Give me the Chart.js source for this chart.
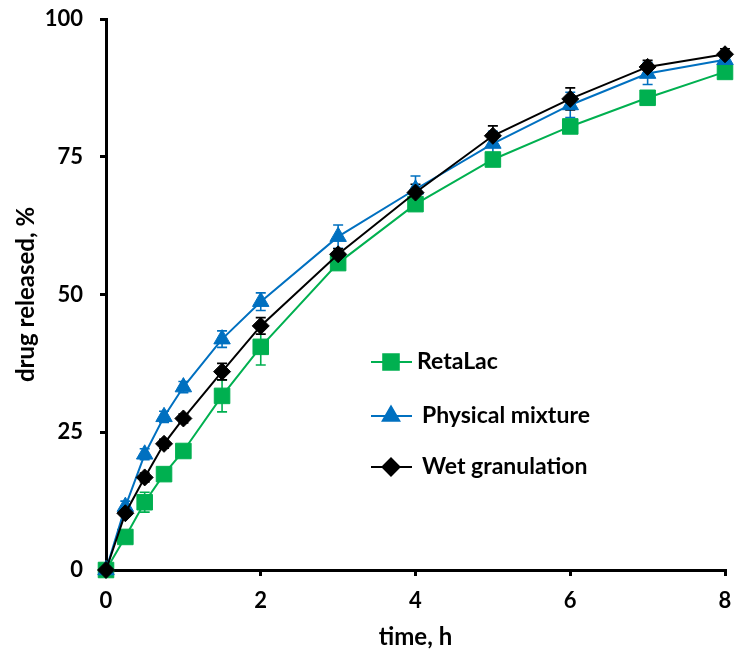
<!DOCTYPE html>
<html><head><meta charset="utf-8">
<script src="https://cdn.jsdelivr.net/npm/chart.js@4.4.0/dist/chart.umd.min.js"></script>
<style>html,body{margin:0;padding:0;background:#fff;}#wrap{width:737px;height:659px;position:relative}</style>
</head><body><div id="wrap"><canvas id="c" width="737" height="659"></canvas></div>
<script>
const timesH = [0, 0.25, 0.5, 0.75, 1, 1.5, 2, 3, 4, 5, 6, 7, 8];
const retaLac = [0, 6.0, 12.3, 17.4, 21.6, 31.6, 40.5, 55.7, 66.4, 74.5, 80.5, 85.7, 90.4];
const retaLacErr = [0, 0.5, 1.8, 1.0, 1.0, 2.9, 3.3, 1.0, 1.0, 1.0, 1.0, 0.8, 0.8];
const physMix = [0, 11.5, 21.0, 27.8, 33.2, 41.9, 48.7, 60.5, 69.1, 77.4, 84.4, 90.1, 92.6];
const physMixErr = [0, 1.0, 1.0, 1.0, 1.0, 1.5, 1.6, 2.1, 2.4, 2.2, 2.3, 2.0, 1.5];
const wetGran = [0, 10.3, 16.8, 22.9, 27.5, 36.0, 44.3, 57.3, 68.5, 78.8, 85.5, 91.3, 93.6];
const wetGranErr = [0, 0.5, 0.8, 0.8, 0.8, 1.5, 1.5, 1.0, 1.5, 1.8, 2.0, 1.2, 1.0];
const seriesNames = ['RetaLac', 'Physical mixture', 'Wet granulation'];
const xTickValues = [0, 2, 4, 6, 8];
const yTickValues = [0, 25, 50, 75, 100];

const FONT = 'Lato, "Open Sans", sans-serif';
const toPts = (ys) => timesH.map((t, i) => ({x: t, y: ys[i]}));

const errorBars = {
  id: 'errorBars',
  beforeDatasetsDraw(chart) {
    const {ctx, scales: {x, y}} = chart;
    chart.data.datasets.forEach((ds) => {
      const err = ds.errors;
      ctx.save();
      ctx.strokeStyle = ds.borderColor;
      ctx.lineWidth = 1.6;
      ds.data.forEach((p, i) => {
        if (!err[i]) return;
        const px = x.getPixelForValue(p.x);
        const top = y.getPixelForValue(p.y + err[i]);
        const bot = y.getPixelForValue(p.y - err[i]);
        ctx.beginPath();
        ctx.moveTo(px, top); ctx.lineTo(px, bot);
        ctx.moveTo(px - 5, top); ctx.lineTo(px + 5, top);
        ctx.moveTo(px - 5, bot); ctx.lineTo(px + 5, bot);
        ctx.stroke();
      });
      ctx.restore();
    });
  }
};

const customLegend = {
  id: 'customLegend',
  afterDraw(chart) {
    const {ctx} = chart;
    const rows = [
      {ds: 0, y: 362, tx: 417},
      {ds: 1, y: 416, tx: 422},
      {ds: 2, y: 467, tx: 422}
    ];
    rows.forEach(r => {
      const ds = chart.data.datasets[r.ds];
      ctx.save();
      ctx.strokeStyle = ds.borderColor;
      ctx.lineWidth = 2;
      ctx.beginPath(); ctx.moveTo(371, r.y); ctx.lineTo(412, r.y); ctx.stroke();
      ctx.fillStyle = ds.backgroundColor;
      Chart.helpers.drawPoint(ctx, {pointStyle: ds.pointStyle, radius: ds.pointRadius, borderWidth: 1}, 391, r.y);
      ctx.fillStyle = '#000';
      ctx.font = 'bold 23px ' + FONT;
      ctx.textBaseline = 'middle';
      ctx.textAlign = 'left';
      ctx.fillText(ds.label, r.tx, r.y);
      ctx.restore();
    });
  }
};

const mk = (label, ys, errs, color, style, radius, order) => ({
  label, data: toPts(ys), errors: errs,
  borderColor: color, backgroundColor: color,
  pointStyle: style, pointRadius: radius, pointHoverRadius: radius,
  pointBorderWidth: 1, borderWidth: 2, showLine: true, clip: false, order
});

new Chart(document.getElementById('c'), {
  type: 'scatter',
  data: {
    datasets: [
      mk(seriesNames[0], retaLac, retaLacErr, '#00B050', 'rect', 11, 3),
      mk(seriesNames[1], physMix, physMixErr, '#0070C0', 'triangle', 9.5, 2),
      mk(seriesNames[2], wetGran, wetGranErr, '#000000', 'rectRot', 8.5, 1)
    ]
  },
  options: {
    responsive: false, animation: false, devicePixelRatio: 1,
    layout: {autoPadding: false, padding: {top: 19, right: 12, left: 0, bottom: 0}},
    plugins: {legend: {display: false}, tooltip: {enabled: false}},
    scales: {
      x: {
        type: 'linear', min: 0, max: 8,
        afterFit: (s) => { s.height = 89; s.paddingLeft = 0; s.paddingRight = 0; },
        afterBuildTicks: (s) => { s.ticks = xTickValues.map(v => ({value: v})); },
        ticks: {color: '#000', font: {family: FONT, size: 22, weight: 'bold'}, padding: 12},
        grid: {drawOnChartArea: false, drawTicks: true, tickLength: 6, lineWidth: 3, color: '#000'},
        border: {display: true, width: 3, color: '#000'},
        title: {display: true, text: 'time, h', color: '#000', font: {family: FONT, size: 24, weight: 'bold'}, padding: {top: 0, bottom: 7}}
      },
      y: {
        type: 'linear', min: 0, max: 100,
        afterFit: (s) => { s.width = 106; s.paddingTop = 0; s.paddingBottom = 0; },
        afterBuildTicks: (s) => { s.ticks = yTickValues.map(v => ({value: v})); },
        ticks: {color: '#000', font: {family: FONT, size: 22, weight: 'bold'}, padding: 17},
        grid: {drawOnChartArea: false, drawTicks: true, tickLength: 6, lineWidth: 3, color: '#000'},
        border: {display: true, width: 3, color: '#000'},
        title: {display: true, text: 'drug released, %', color: '#000', font: {family: FONT, size: 24, weight: 'bold'}, padding: {top: 12, bottom: 0}}
      }
    }
  },
  plugins: [errorBars, customLegend]
});
</script></body></html>
